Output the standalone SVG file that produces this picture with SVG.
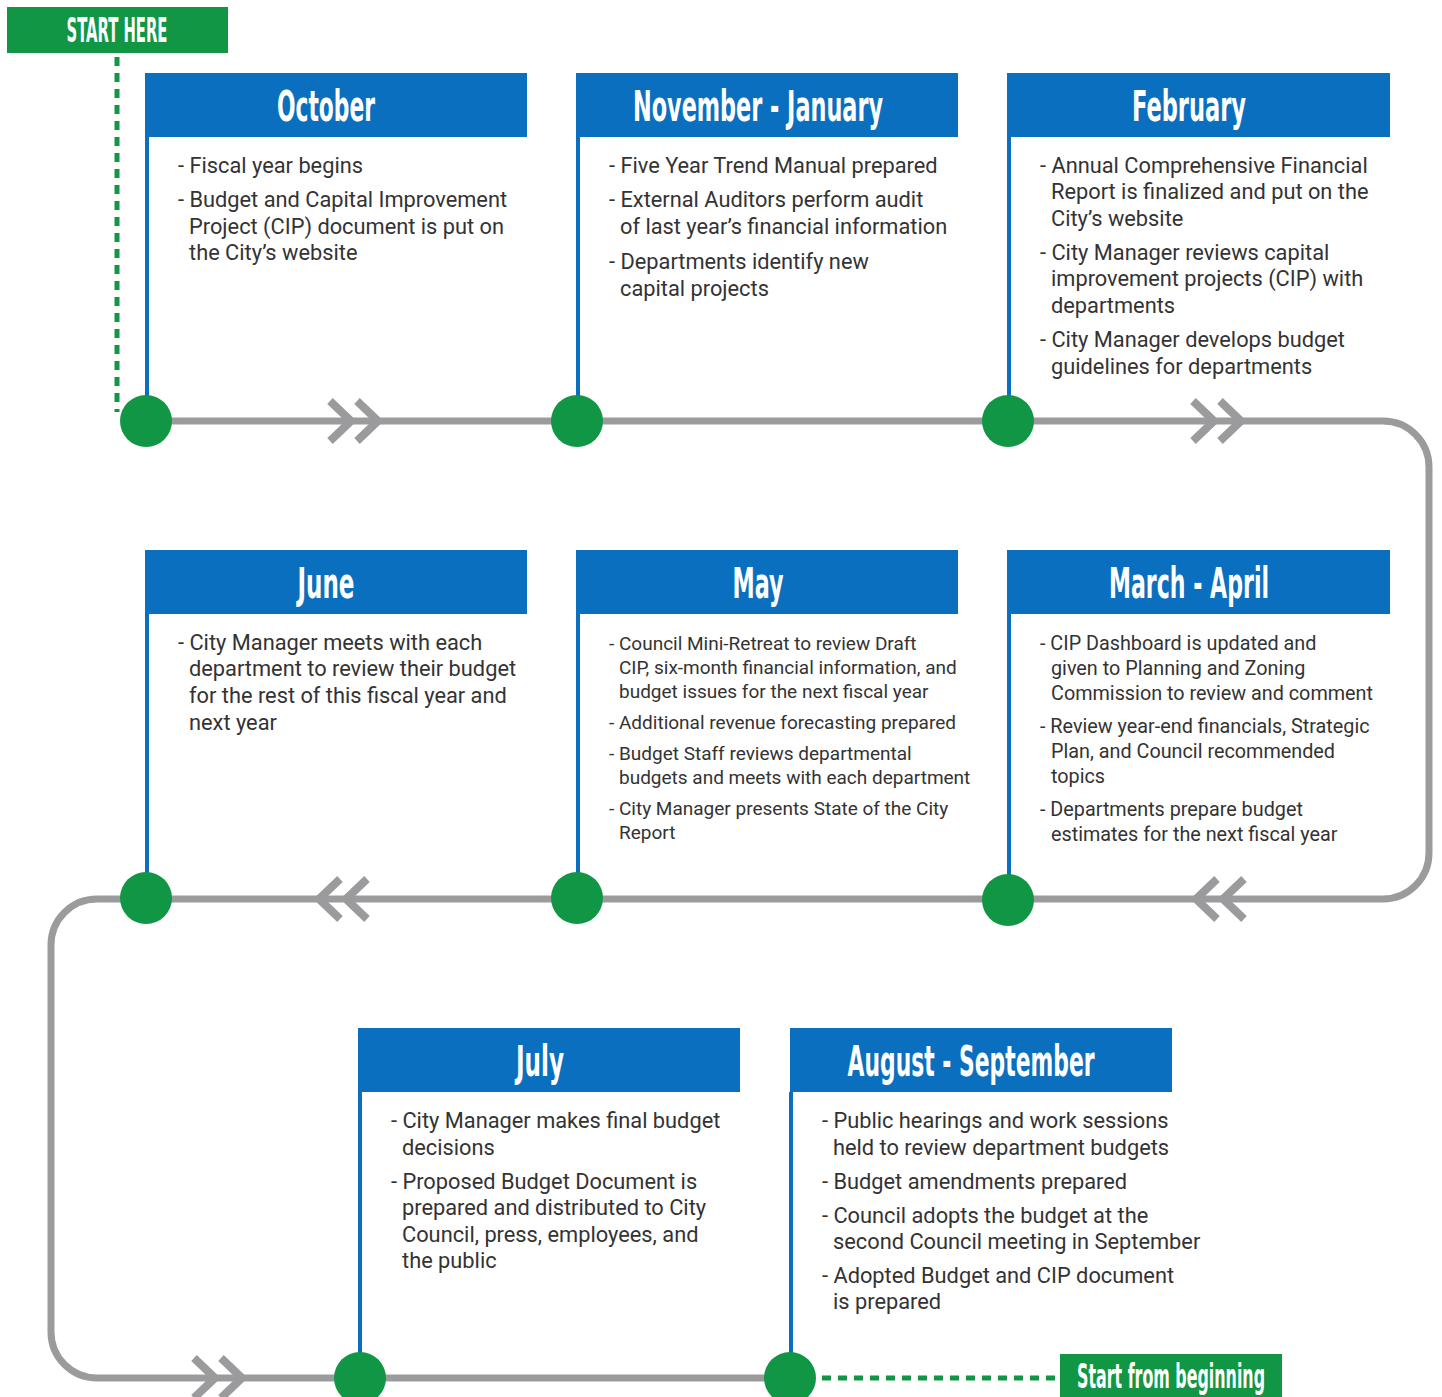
<svg xmlns="http://www.w3.org/2000/svg" width="1442" height="1397" viewBox="0 0 1442 1397">
<style>
.hdr{fill:#0b6fbf}
.hdrt{fill:#fff;font-family:"Liberation Sans Narrow","DejaVu Sans Condensed","Liberation Sans",sans-serif;font-weight:bold;font-size:42px;text-anchor:middle}
.vline{stroke:#0b6fbf;stroke-width:4;fill:none}
.dot{fill:#109644}
.body{fill:#333;font-family:Roboto,"Liberation Sans",sans-serif;font-size:21.8px}
.bodym{fill:#333;font-family:Roboto,"Liberation Sans",sans-serif;font-size:19.8px}
.bodys{fill:#333;font-family:Roboto,"Liberation Sans",sans-serif;font-size:19px}
.track{stroke:#9b9b9d;stroke-width:7;fill:none}
.chev{stroke:#9b9b9d;stroke-width:8;fill:none}
.gdash{stroke:#109644;stroke-width:5;fill:none;stroke-dasharray:9 7}
.gbox{fill:#109644}
.gt{fill:#fff;font-family:"Liberation Sans Narrow","DejaVu Sans Condensed","Liberation Sans",sans-serif;font-weight:bold;text-anchor:middle}
</style>
<rect width="1442" height="1397" fill="#fff"/>
<g id="connectors">
<path class="track" d="M146 421 H1383 A46 46 0 0 1 1429 467 V853 A46 46 0 0 1 1383 899 H97 A46 46 0 0 0 51 945 V1332 A46 46 0 0 0 97 1378 H790"/>
<path class="chev" d="M330 401 L351 421 L330 441 M357 401 L378 421 L357 441"/>
<path class="chev" d="M1193 401 L1214 421 L1193 441 M1220 401 L1241 421 L1220 441"/>
<path class="chev" d="M1244 879 L1223 899 L1244 919 M1217 879 L1196 899 L1217 919"/>
<path class="chev" d="M367 879 L346 899 L367 919 M340 879 L319 899 L340 919"/>
<path class="chev" d="M194 1358 L215 1378 L194 1398 M221 1358 L242 1378 L221 1398"/>
<path class="gdash" d="M117 57 V412"/>
<path class="gdash" d="M822 1378 H1056"/>
</g>
<g id="start-here">
<rect class="gbox" x="7" y="7" width="221" height="46"/>
<text class="gt" x="117" y="42" font-size="33" textLength="101" lengthAdjust="spacingAndGlyphs">START HERE</text>
</g>
<g id="start-from-beginning">
<rect class="gbox" x="1060" y="1354" width="222" height="43"/>
<text class="gt" x="1171" y="1388" font-size="33" textLength="188" lengthAdjust="spacingAndGlyphs">Start from beginning</text>
</g>
<g id="october">
<line class="vline" x1="147" y1="137" x2="147" y2="400"/>
<rect class="hdr" x="145" y="73" width="382" height="64"/>
<text class="hdrt" x="326" y="121" textLength="98" lengthAdjust="spacingAndGlyphs">October</text>
<text class="body" x="178" y="173">- Fiscal year begins</text>
<text class="body" x="178" y="207">- Budget and Capital Improvement</text>
<text class="body" x="189" y="234">Project (CIP) document is put on</text>
<text class="body" x="189" y="260">the City’s website</text>
<circle class="dot" cx="146" cy="421" r="26"/>
</g>
<g id="november-january">
<line class="vline" x1="578" y1="137" x2="578" y2="400"/>
<rect class="hdr" x="576" y="73" width="382" height="64"/>
<text class="hdrt" x="758" y="121" textLength="250" lengthAdjust="spacingAndGlyphs">November - January</text>
<text class="body" x="609" y="173">- Five Year Trend Manual prepared</text>
<text class="body" x="609" y="207">- External Auditors perform audit</text>
<text class="body" x="620" y="234">of last year’s financial information</text>
<text class="body" x="609" y="269">- Departments identify new</text>
<text class="body" x="620" y="296">capital projects</text>
<circle class="dot" cx="577" cy="421" r="26"/>
</g>
<g id="february">
<line class="vline" x1="1009" y1="137" x2="1009" y2="400"/>
<rect class="hdr" x="1007" y="73" width="383" height="64"/>
<text class="hdrt" x="1189" y="121" textLength="114" lengthAdjust="spacingAndGlyphs">February</text>
<text class="body" x="1040" y="173">- Annual Comprehensive Financial</text>
<text class="body" x="1051" y="199">Report is finalized and put on the</text>
<text class="body" x="1051" y="226">City’s website</text>
<text class="body" x="1040" y="260">- City Manager reviews capital</text>
<text class="body" x="1051" y="286">improvement projects (CIP) with</text>
<text class="body" x="1051" y="313">departments</text>
<text class="body" x="1040" y="347">- City Manager develops budget</text>
<text class="body" x="1051" y="374">guidelines for departments</text>
<circle class="dot" cx="1008" cy="421" r="26"/>
</g>
<g id="june">
<line class="vline" x1="147" y1="614" x2="147" y2="878"/>
<rect class="hdr" x="145" y="550" width="382" height="64"/>
<text class="hdrt" x="326" y="598" textLength="57" lengthAdjust="spacingAndGlyphs">June</text>
<text class="body" x="178" y="650">- City Manager meets with each</text>
<text class="body" x="189" y="676">department to review their budget</text>
<text class="body" x="189" y="703">for the rest of this fiscal year and</text>
<text class="body" x="189" y="730">next year</text>
<circle class="dot" cx="146" cy="898" r="26"/>
</g>
<g id="may">
<line class="vline" x1="578" y1="614" x2="578" y2="878"/>
<rect class="hdr" x="576" y="550" width="382" height="64"/>
<text class="hdrt" x="758" y="598" textLength="51" lengthAdjust="spacingAndGlyphs">May</text>
<text class="bodys" x="609" y="650">- Council Mini-Retreat to review Draft</text>
<text class="bodys" x="619" y="674">CIP, six-month financial information, and</text>
<text class="bodys" x="619" y="698">budget issues for the next fiscal year</text>
<text class="bodys" x="609" y="729">- Additional revenue forecasting prepared</text>
<text class="bodys" x="609" y="760">- Budget Staff reviews departmental</text>
<text class="bodys" x="619" y="784">budgets and meets with each department</text>
<text class="bodys" x="609" y="815">- City Manager presents State of the City</text>
<text class="bodys" x="619" y="839">Report</text>
<circle class="dot" cx="577" cy="898" r="26"/>
</g>
<g id="march-april">
<line class="vline" x1="1009" y1="614" x2="1009" y2="878"/>
<rect class="hdr" x="1007" y="550" width="383" height="64"/>
<text class="hdrt" x="1189" y="598" textLength="160" lengthAdjust="spacingAndGlyphs">March - April</text>
<text class="bodym" x="1040" y="650">- CIP Dashboard is updated and</text>
<text class="bodym" x="1051" y="675">given to Planning and Zoning</text>
<text class="bodym" x="1051" y="700">Commission to review and comment</text>
<text class="bodym" x="1040" y="733">- Review year-end financials, Strategic</text>
<text class="bodym" x="1051" y="758">Plan, and Council recommended</text>
<text class="bodym" x="1051" y="783">topics</text>
<text class="bodym" x="1040" y="816">- Departments prepare budget</text>
<text class="bodym" x="1051" y="841">estimates for the next fiscal year</text>
<circle class="dot" cx="1008" cy="900" r="26"/>
</g>
<g id="july">
<line class="vline" x1="360" y1="1092" x2="360" y2="1356"/>
<rect class="hdr" x="358" y="1028" width="382" height="64"/>
<text class="hdrt" x="540" y="1076" textLength="48" lengthAdjust="spacingAndGlyphs">July</text>
<text class="body" x="391" y="1128">- City Manager makes final budget</text>
<text class="body" x="402" y="1155">decisions</text>
<text class="body" x="391" y="1189">- Proposed Budget Document is</text>
<text class="body" x="402" y="1215">prepared and distributed to City</text>
<text class="body" x="402" y="1242">Council, press, employees, and</text>
<text class="body" x="402" y="1268">the public</text>
<circle class="dot" cx="360" cy="1378" r="26"/>
</g>
<g id="august-september">
<line class="vline" x1="791" y1="1092" x2="791" y2="1356"/>
<rect class="hdr" x="790" y="1028" width="382" height="64"/>
<text class="hdrt" x="971" y="1076" textLength="247" lengthAdjust="spacingAndGlyphs">August - September</text>
<text class="body" x="822" y="1128">- Public hearings and work sessions</text>
<text class="body" x="833" y="1155">held to review department budgets</text>
<text class="body" x="822" y="1189">- Budget amendments prepared</text>
<text class="body" x="822" y="1223">- Council adopts the budget at the</text>
<text class="body" x="833" y="1249">second Council meeting in September</text>
<text class="body" x="822" y="1283">- Adopted Budget and CIP document</text>
<text class="body" x="833" y="1309">is prepared</text>
<circle class="dot" cx="790" cy="1378" r="26"/>
</g>
</svg>
